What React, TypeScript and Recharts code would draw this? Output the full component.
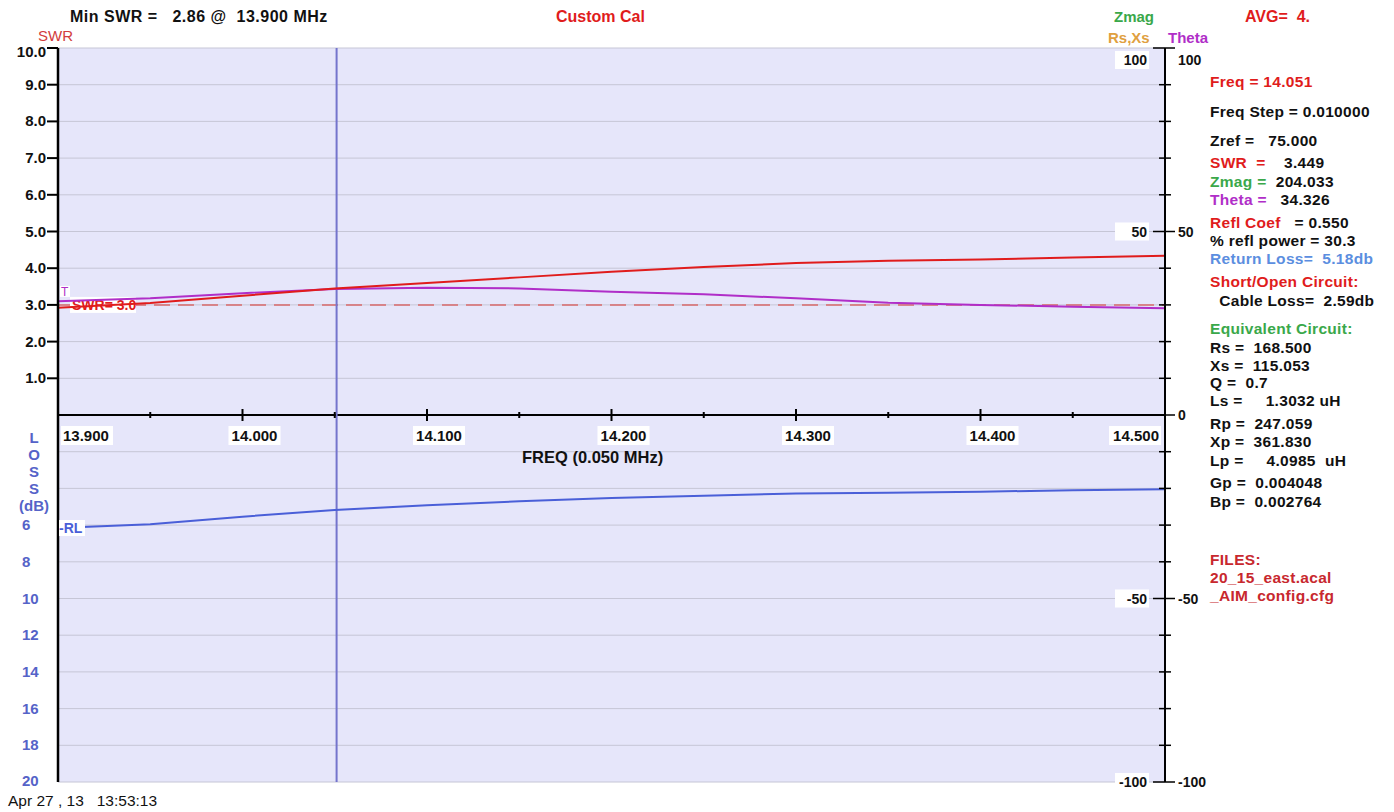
import React from 'react';
import { CartesianGrid, ComposedChart, Line, ReferenceDot, ReferenceLine, XAxis, YAxis } from 'recharts';

// sweep points (MHz), read every 0.05 MHz off the plot
const freqs = [13.9, 13.95, 14.0, 14.05, 14.1, 14.15, 14.2, 14.25, 14.3, 14.35, 14.4, 14.45, 14.5];
const swrValues = [2.92, 3.05, 3.25, 3.45, 3.6, 3.75, 3.9, 4.03, 4.14, 4.2, 4.24, 4.29, 4.34];
const thetaValues = [31.0, 31.8, 33.2, 34.3, 34.7, 34.5, 33.6, 32.9, 31.8, 30.6, 30.0, 29.5, 29.1];
const returnLossDb = [6.16, 5.96, 5.54, 5.18, 4.92, 4.7, 4.52, 4.4, 4.28, 4.24, 4.18, 4.1, 4.05];

const majorFreqLabels = ['13.900', '14.000', '14.100', '14.200', '14.300', '14.400', '14.500'];
const leftTicks = [10, 9, 8, 7, 6, 5, 4, 3, 2, 1, 0, -1, -2, -3, -4, -5, -6, -7, -8, -9, -10];
const swrLabelTicks = [10, 9, 8, 7, 6, 5, 4, 3, 2, 1];
const lossLabelTicks = [6, 8, 10, 12, 14, 16, 18, 20];
const rightTicks = [100, 90, 80, 70, 60, 50, 40, 30, 20, 10, 0, -10, -20, -30, -40, -50, -60, -70, -80, -90, -100];
const rightLabelTicks = [100, 50, 0, -50, -100];

const cursorFreq = 14.051;
const swrLimit = 3.0;

const data = freqs.map((f, i) => ({ f, swr: swrValues[i], theta: thetaValues[i], rl: returnLossDb[i] }));

const FONT = '"Liberation Sans", Arial, sans-serif';
const RED = '#e01c1c';
const MAGENTA = '#b02ec8';
const BLUE = '#4a5fd8';
const LOSS_BLUE = '#5563c8';
const GREEN = '#3aa84a';

const LeftTick = (props: any) => {
  const { x, y, payload } = props;
  const v = payload.value;
  if (swrLabelTicks.includes(v)) {
    return (
      <g>
        <line x1={x - 11} x2={x} y1={y} y2={y} stroke="#000" strokeWidth={2} />
        <text x={x - 12} y={v === 10 ? y + 4 : y} dy={5} textAnchor="end" fontFamily={FONT} fontSize={15} fontWeight="bold" fill="#111">
          {v.toFixed(1)}
        </text>
      </g>
    );
  }
  const loss = -v * 2;
  if (lossLabelTicks.includes(loss)) {
    return (
      <text x={x - 36} y={v === -10 ? y - 1 : y} dy={5} textAnchor="start" fontFamily={FONT} fontSize={15} fontWeight="bold" fill={LOSS_BLUE}>
        {loss}
      </text>
    );
  }
  return <g />;
};

const RightTick = (props: any) => {
  const { x, y, payload } = props;
  const v = payload.value;
  const major = rightLabelTicks.includes(v);
  const ly = v === 100 ? y + 12 : y;
  return (
    <g>
      <line x1={x - (major ? 12 : 6)} x2={x + (major ? 10 : 6)} y1={y} y2={y} stroke="#000" strokeWidth={1.5} />
      {major && (
        <text x={x + 13} y={ly} dy={5} fontFamily={FONT} fontSize={14} fontWeight="bold" fill="#111">
          {v}
        </text>
      )}
      {major && v !== 0 && (
        <g>
          <rect x={x - 50} y={ly - 9} width={34} height={18} fill="#fff" />
          <text x={x - 18} y={ly} dy={5} textAnchor="end" fontFamily={FONT} fontSize={14} fontWeight="bold" fill="#111">
            {v}
          </text>
        </g>
      )}
    </g>
  );
};

const freqTickShape = (idx: number) => (props: any) => {
  const { cx, cy } = props;
  const major = idx % 2 === 0;
  const label = major ? majorFreqLabels[idx / 2] : null;
  let tx = cx + 12;
  let anchor = 'middle';
  if (idx === 0) {
    tx = cx + 5;
    anchor = 'start';
  } else if (idx === freqs.length - 1) {
    tx = cx - 6;
    anchor = 'end';
  }
  const w = 52;
  const rx = anchor === 'start' ? tx - 2 : anchor === 'end' ? tx - w + 2 : tx - w / 2;
  return (
    <g>
      <line x1={cx} x2={cx} y1={cy - (major ? 6 : 3)} y2={cy + (major ? 6 : 3)} stroke="#000" strokeWidth={2} />
      {label && (
        <g>
          <rect x={rx} y={cy + 11} width={w} height={19} fill="#fff" />
          <text x={tx} y={cy + 26} textAnchor={anchor} fontFamily={FONT} fontSize={15} fontWeight="bold" fill="#111">
            {label}
          </text>
        </g>
      )}
    </g>
  );
};

const SwrLimitLabel = (props: any) => {
  const { viewBox } = props;
  if (!viewBox) return null;
  const x = viewBox.x + 12;
  const y = viewBox.y;
  return (
    <g>
      <rect x={x} y={y - 8} width={66} height={16} fill="#fff" />
      <text x={x + 2} y={y + 5} fontFamily={FONT} fontSize={14} fontWeight="bold" fill={RED}>
        SWR= 3.0
      </text>
    </g>
  );
};

const ThetaTag = (props: any) => {
  const { cx, cy } = props;
  return (
    <g>
      <rect x={cx + 2} y={cy - 10} width={10} height={11} fill="#fff" />
      <text x={cx + 3} y={cy} fontFamily={FONT} fontSize={12} fill={MAGENTA}>
        T
      </text>
    </g>
  );
};

const RlTag = (props: any) => {
  const { cx, cy } = props;
  return (
    <g>
      <rect x={cx + 1} y={cy - 8} width={26} height={16} fill="#fff" />
      <text x={cx + 1} y={cy + 5} fontFamily={FONT} fontSize={14} fontWeight="bold" fill={BLUE}>
        -RL
      </text>
    </g>
  );
};

type Part = { t: string; c: string };
const panelLines: { top: number; parts: Part[] }[] = [
  { top: 73, parts: [{ t: 'Freq = 14.051', c: RED }] },
  { top: 103, parts: [{ t: 'Freq Step = 0.010000', c: '#111' }] },
  { top: 132, parts: [{ t: 'Zref =   75.000', c: '#111' }] },
  { top: 154, parts: [{ t: 'SWR  =  ', c: RED }, { t: '  3.449', c: '#111' }] },
  { top: 173, parts: [{ t: 'Zmag = ', c: GREEN }, { t: ' 204.033', c: '#111' }] },
  { top: 191, parts: [{ t: 'Theta = ', c: MAGENTA }, { t: '  34.326', c: '#111' }] },
  { top: 214, parts: [{ t: 'Refl Coef  ', c: RED }, { t: ' = 0.550', c: '#111' }] },
  { top: 232, parts: [{ t: '% refl power = 30.3', c: '#111' }] },
  { top: 250, parts: [{ t: 'Return Loss=  5.18db', c: '#5b8ee0' }] },
  { top: 273, parts: [{ t: 'Short/Open Circuit:', c: RED }] },
  { top: 292, parts: [{ t: '  Cable Loss=  2.59db', c: '#111' }] },
  { top: 320, parts: [{ t: 'Equivalent Circuit:', c: GREEN }] },
  { top: 339, parts: [{ t: 'Rs =  168.500', c: '#111' }] },
  { top: 357, parts: [{ t: 'Xs =  115.053', c: '#111' }] },
  { top: 374, parts: [{ t: 'Q =  0.7', c: '#111' }] },
  { top: 392, parts: [{ t: 'Ls =     1.3032 uH', c: '#111' }] },
  { top: 415, parts: [{ t: 'Rp =  247.059', c: '#111' }] },
  { top: 433, parts: [{ t: 'Xp =  361.830', c: '#111' }] },
  { top: 452, parts: [{ t: 'Lp =     4.0985  uH', c: '#111' }] },
  { top: 474, parts: [{ t: 'Gp =  0.004048', c: '#111' }] },
  { top: 493, parts: [{ t: 'Bp =  0.002764', c: '#111' }] },
  { top: 551, parts: [{ t: 'FILES:', c: '#c8282e' }] },
  { top: 569, parts: [{ t: '20_15_east.acal', c: '#c8282e' }] },
  { top: 587, parts: [{ t: '_AIM_config.cfg', c: '#c8282e' }] },
];

const abs = (left: number, top: number, extra: React.CSSProperties = {}): React.CSSProperties => ({
  position: 'absolute',
  left,
  top,
  fontFamily: FONT,
  whiteSpace: 'pre',
  lineHeight: '17px',
  ...extra,
});

const App: React.FC = () => {
  return (
    <div style={{ position: 'absolute', left: 0, top: 0, width: 1394, height: 812, background: '#fff', overflow: 'hidden' }}>
      <ComposedChart width={1394} height={812} data={data} margin={{ top: 48, right: 0, bottom: 0, left: 0 }}>
        <CartesianGrid fill="#e6e6fa" stroke="#c6c6d6" strokeWidth={1} yAxisId="left" />
        <XAxis
          dataKey="f"
          type="number"
          domain={[13.9, 14.5]}
          ticks={freqs}
          height={30}
          tick={false}
          axisLine={false}
          tickLine={false}
        />
        <YAxis
          yAxisId="left"
          type="number"
          domain={[-10, 10]}
          ticks={leftTicks}
          interval={0}
          width={58}
          tickSize={0}
          tickMargin={0}
          tickLine={false}
          axisLine={{ stroke: '#000', strokeWidth: 2.5 }}
          tick={<LeftTick />}
        />
        <YAxis
          yAxisId="right"
          orientation="right"
          type="number"
          domain={[-100, 100]}
          ticks={rightTicks}
          interval={0}
          width={229}
          tickSize={0}
          tickMargin={0}
          tickLine={false}
          axisLine={{ stroke: '#000', strokeWidth: 2 }}
          tick={<RightTick />}
        />
        <YAxis yAxisId="loss" hide reversed type="number" domain={[-20, 20]} />

        <ReferenceLine yAxisId="left" y={0} stroke="#000" strokeWidth={2} />
        <ReferenceLine
          yAxisId="left"
          y={swrLimit}
          stroke="#d86a6a"
          strokeWidth={1.5}
          strokeDasharray="16 8"
          label={<SwrLimitLabel />}
        />
        <ReferenceLine yAxisId="left" x={cursorFreq} stroke="#7474cc" strokeWidth={2} />

        {freqs.map((f, i) => (
          <ReferenceDot key={f} yAxisId="left" x={f} y={0} r={0} shape={freqTickShape(i)} />
        ))}

        <Line yAxisId="right" dataKey="theta" stroke={MAGENTA} strokeWidth={2} dot={false} isAnimationActive={false} />
        <Line yAxisId="left" dataKey="swr" stroke={RED} strokeWidth={2} dot={false} isAnimationActive={false} />
        <Line yAxisId="loss" dataKey="rl" stroke={BLUE} strokeWidth={2} dot={false} isAnimationActive={false} />

        <ReferenceDot yAxisId="left" x={freqs[0]} y={swrLimit} r={0} shape={(p: any) => <ThetaTag cx={p.cx} cy={p.cy - 9} />} />
        <ReferenceDot yAxisId="loss" x={freqs[0]} y={returnLossDb[0]} r={0} shape={(p: any) => <RlTag {...p} />} />
      </ComposedChart>

      {/* header */}
      <div style={abs(70, 8, { fontSize: 16, fontWeight: 'bold', color: '#111', letterSpacing: 0.5 })}>{'Min SWR =   2.86 @  13.900 MHz'}</div>
      <div style={abs(556, 8, { fontSize: 16, fontWeight: 'bold', color: RED })}>Custom Cal</div>
      <div style={abs(1114, 8, { fontSize: 15, fontWeight: 'bold', color: GREEN })}>Zmag</div>
      <div style={abs(1245, 8, { fontSize: 16, fontWeight: 'bold', color: RED })}>{'AVG=  4.'}</div>
      <div style={abs(38, 27, { fontSize: 15, color: '#d23c3c' })}>SWR</div>
      <div style={abs(1108, 29, { fontSize: 15, fontWeight: 'bold', color: '#e0a040' })}>Rs,Xs</div>
      <div style={abs(1168, 29, { fontSize: 15, fontWeight: 'bold', color: MAGENTA })}>Theta</div>

      {/* loss axis title */}
      <div
        style={abs(16, 429, {
          fontSize: 15,
          fontWeight: 'bold',
          color: LOSS_BLUE,
          width: 36,
          textAlign: 'center',
          lineHeight: '17px',
        })}
      >
        {'L\nO\nS\nS\n(dB)'}
      </div>

      <div style={abs(522, 449, { fontSize: 16.5, fontWeight: 'bold', color: '#111' })}>FREQ (0.050 MHz)</div>
      <div style={abs(8, 792, { fontSize: 15.5, color: '#111' })}>{'Apr 27 , 13   13:53:13'}</div>

      {/* readout panel */}
      {panelLines.map((ln) => (
        <div key={ln.top} style={abs(1210, ln.top, { fontSize: 15.5, fontWeight: 'bold', letterSpacing: 0.3 })}>
          {ln.parts.map((p, i) => (
            <span key={i} style={{ color: p.c }}>
              {p.t}
            </span>
          ))}
        </div>
      ))}
    </div>
  );
};

export default App;
